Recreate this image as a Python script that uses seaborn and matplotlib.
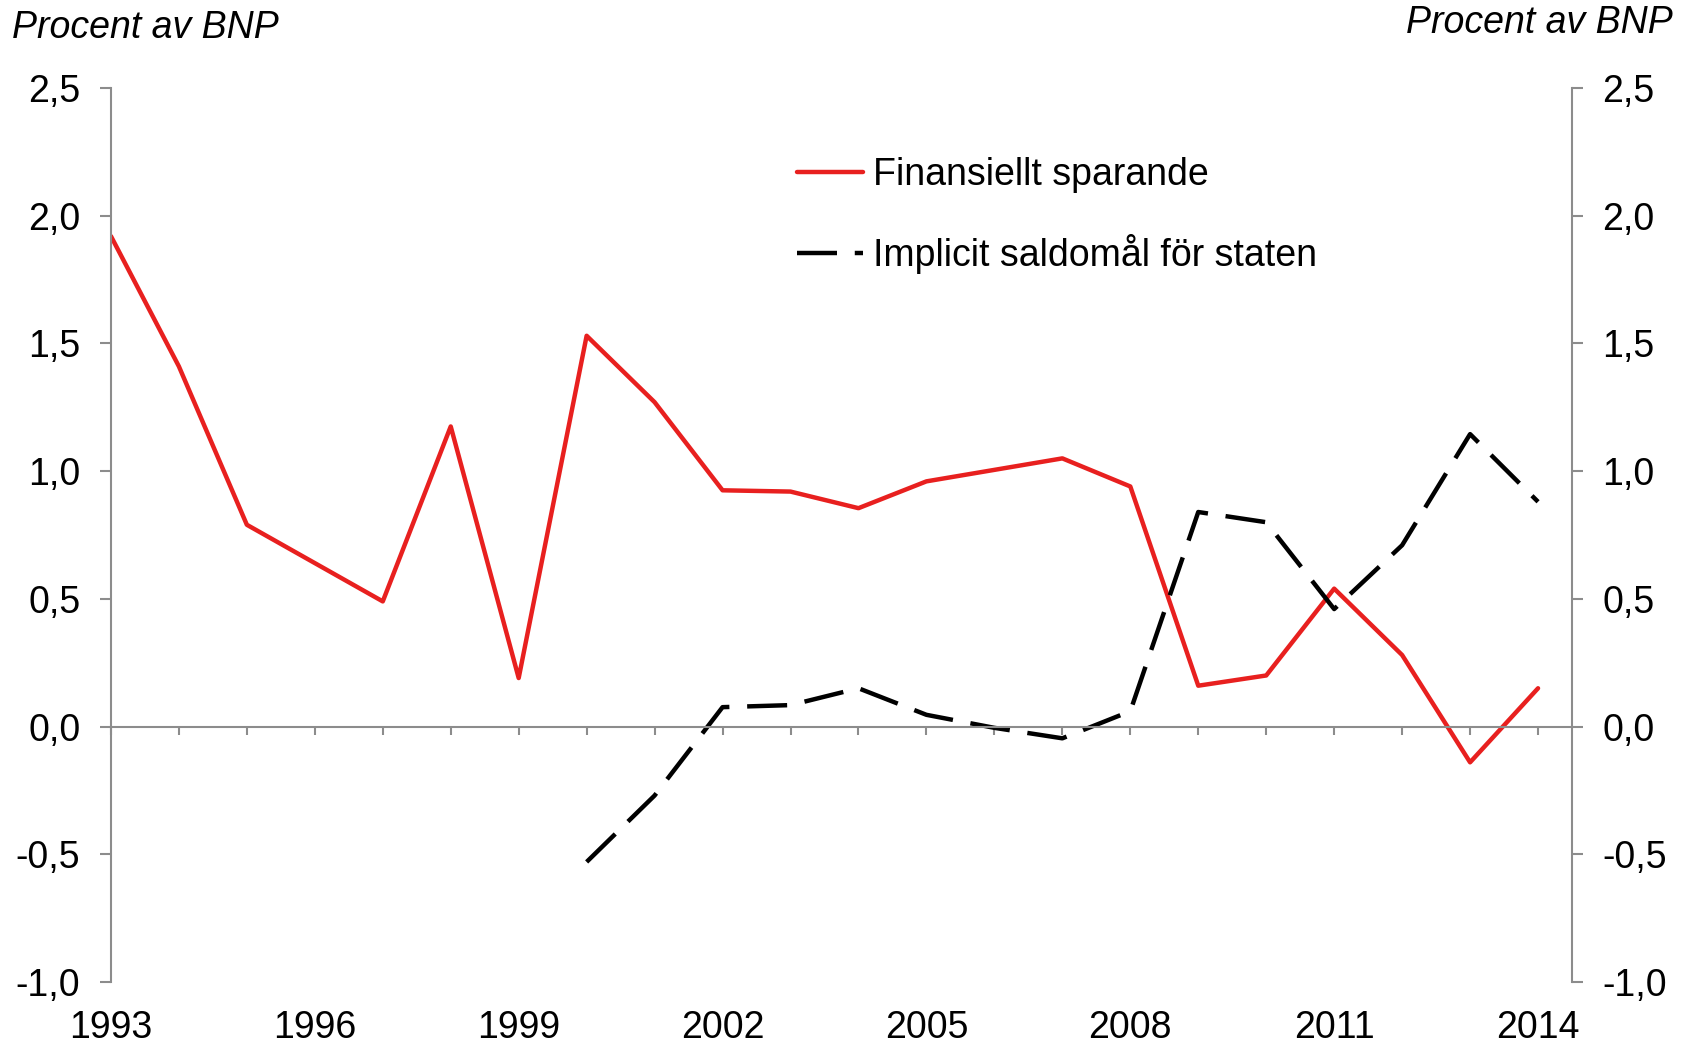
import numpy as np
import pandas as pd
import matplotlib
matplotlib.use("Agg")
import matplotlib.pyplot as plt
import seaborn as sns

# Data
years = list(range(1993, 2015))
finansiellt = [1.92, 1.41, 0.79, 0.64, 0.49, 1.175, 0.19, 1.53, 1.27, 0.925,
               0.92, 0.855, 0.96, 1.005, 1.05, 0.94, 0.16, 0.20, 0.54, 0.28,
               -0.14, 0.15]
saldomal = [np.nan] * 7 + [-0.53, -0.27, 0.076, 0.084, 0.15, 0.046, -0.005,
                           -0.046, 0.06, 0.84, 0.80, 0.46, 0.71, 1.145, 0.88]
yticks = [-1.0, -0.5, 0.0, 0.5, 1.0, 1.5, 2.0, 2.5]
xlabels_years = [1993, 1996, 1999, 2002, 2005, 2008, 2011, 2014]

df = pd.DataFrame({"year": years, "fin": finansiellt, "sal": saldomal})

sns.set_style("white")
plt.rcParams["font.family"] = ["Liberation Sans", "DejaVu Sans"]
plt.rcParams["text.color"] = "black"
plt.rcParams["xtick.labelcolor"] = "black"
plt.rcParams["ytick.labelcolor"] = "black"

RED = "#e8201f"
GRAY = "#8c8c8c"
FS = 27

fig = plt.figure(figsize=(16.86, 10.44), dpi=100)
ax = fig.add_axes([0.0658, 0.0594, 0.8666, 0.8563])

sns.lineplot(data=df, x="year", y="fin", color=RED, linewidth=3.2,
             label="Finansiellt sparande", ax=ax)
sns.lineplot(data=df.dropna(), x="year", y="sal", color="black", linewidth=3.2,
             linestyle=(0, (9, 4)), label="Implicit saldomål för staten", ax=ax)

ax.set_xlim(1993, 2014.5)
ax.set_ylim(-1.0, 2.5)
ax.set_xlabel("")
ax.set_ylabel("")

# y-axis (left)
ax.set_yticks(yticks)
ax.set_yticklabels([f"{v:.1f}".replace(".", ",") for v in yticks], fontsize=FS)
ax.tick_params(axis="y", direction="out", length=8, width=1.5, color=GRAY,
               pad=14, left=True, labelcolor="black")

# x-axis line sits at zero, labels at the bottom
ax.spines["bottom"].set_position(("data", 0))
ax.set_xticks(years)
ax.tick_params(axis="x", direction="out", length=6, width=1.5, color=GRAY,
               bottom=True, labelbottom=False)
for s in ["top", "right"]:
    ax.spines[s].set_visible(False)
for s in ["left", "bottom"]:
    ax.spines[s].set_color(GRAY)
    ax.spines[s].set_linewidth(1.5)

sec = ax.secondary_xaxis("bottom")
sec.set_xticks(xlabels_years)
sec.set_xticklabels([str(y) for y in xlabels_years], fontsize=FS)
sec.tick_params(length=0, pad=20, labelcolor="black")
sec.spines["bottom"].set_visible(False)

# right axis
ax2 = ax.twinx()
ax2.set_ylim(ax.get_ylim())
ax2.set_yticks(yticks)
ax2.set_yticklabels([f"{v:.1f}".replace(".", ",") for v in yticks], fontsize=FS)
ax2.tick_params(axis="y", direction="out", length=8, width=1.5, color=GRAY,
                pad=14, right=True, labelcolor="black")
for s in ["top", "left", "bottom"]:
    ax2.spines[s].set_visible(False)
ax2.spines["right"].set_color(GRAY)
ax2.spines["right"].set_linewidth(1.5)

# legend
leg = ax.legend(loc="upper left", bbox_to_anchor=(0.459, 0.94), frameon=False,
                fontsize=FS, handlelength=1.78, handletextpad=0.25,
                labelspacing=1.1, borderaxespad=0)
for t in leg.get_texts():
    t.set_color("black")

fig.text(0.007, 0.99, "Procent av BNP", ha="left", va="top", fontsize=FS,
         style="italic", color="black")
fig.text(0.992, 0.995, "Procent av BNP", ha="right", va="top", fontsize=FS,
         style="italic", color="black")

fig.savefig("out.png", dpi=100)
